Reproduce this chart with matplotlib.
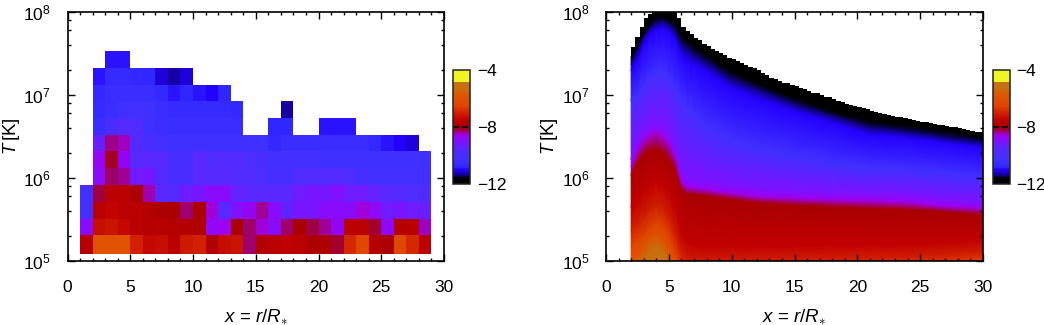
import numpy as np
import matplotlib
matplotlib.use('Agg')
import matplotlib.pyplot as plt
from matplotlib.colors import LinearSegmentedColormap, Normalize
from matplotlib.cm import ScalarMappable
from matplotlib.ticker import LogLocator, MultipleLocator, NullFormatter

plt.rcParams['font.family'] = ['Liberation Sans', 'DejaVu Sans']
plt.rcParams['mathtext.fontset'] = 'custom'
plt.rcParams['mathtext.rm'] = 'Liberation Sans'
plt.rcParams['mathtext.it'] = 'Liberation Sans:italic'
plt.rcParams['mathtext.bf'] = 'Liberation Sans:bold'
plt.rcParams['font.size'] = 12.5

n = np.nan

# left panel: cell edges and log10 values, rows go from the bottom up
x_edges = list(range(1, 30))
logT_edges = [5.08, 5.31, 5.51, 5.71, 5.92, 6.12, 6.32, 6.52, 6.72, 6.93, 7.125, 7.325, 7.53]
row0 = [-7.7, -6.0, -6.0, -6.0, -7.0, -7.4, -7.3, -7.6, -7.1, -7.0, -7.8, -7.3, -7.2, -8.3, -7.8, -7.6, -7.55, -7.6, -7.85, -7.9, -8.15, -6.9, -6.4, -7.75, -7.9, -6.4, -6.9, -7.6]
row1 = [-8.9, -7.3, -7.2, -7.4, -7.6, -7.7, -7.65, -7.7, -7.75, -7.8, -8.8, -8.65, -8.0, -8.3, -8.55, -8.9, -8.3, -8.0, -8.2, -8.4, -8.75, -7.6, -7.6, -8.15, -8.8, -7.75, -7.65, -8.5]
row2 = [-10.2, -7.6, -7.45, -7.6, -7.6, -7.75, -7.85, -7.95, -8.3, -7.9, -8.55, -9.6, -9.0, -8.75, -8.4, -8.9, -9.4, -9.1, -9.1, -8.9, -8.9, -8.9, -8.55, -8.8, -9.2, -9.1, -9.2, -9.3]
row3 = [-10.2, -8.2, -7.6, -7.6, -7.9, -8.45, -9.5, -9.6, -9.25, -9.1, -8.9, -8.9, -9.35, -9.5, -9.5, -9.5, -9.5, -9.2, -9.1, -9.1, -9.0, -9.2, -9.2, -9.35, -9.5, -9.7, -9.8, -9.8]
row4 = [n, -8.85, -8.3, -8.4, -9.2, -9.1, -9.7, -10.0, -10.0, -9.5, -9.6, -9.6, -9.7, -9.8, -9.9, -10.1, -10.1, -9.8, -9.75, -9.7, -9.7, -9.8, -10.0, -10.2, -10.2, -10.2, -10.2, -10.2]
row5 = [n, -8.7, -8.1, -8.75, -9.6, -9.5, -9.6, -10.0, -10.1, -9.5, -9.8, -9.7, -9.7, -9.85, -10.0, -10.2, -10.2, -10.2, -10.2, -10.3, -10.3, -10.3, -10.3, -10.3, -10.3, -10.3, -10.3, -10.3]
row6 = [n, -9.3, -8.35, -8.5, -9.7, -10.0, -10.2, -10.3, -10.3, -10.3, -10.3, -10.3, -10.3, -10.3, -10.3, -10.7, -10.5, -10.5, -10.5, -10.5, -10.5, -10.5, -10.5, -10.7, -10.9, -11.0, -11.1, n]
row7 = [n, -10.5, -10.0, -9.7, -9.8, -10.3, -10.4, -10.5, -10.5, -10.5, -10.5, -10.5, -10.5, n, n, -10.8, -10.8, n, n, -10.9, -10.9, -10.9, n, n, n, n, n, n]
row8 = [n, -10.6, -10.5, -10.3, -10.2, -10.3, -10.5, -10.6, -10.6, -10.6, -10.6, -10.6, -10.7, n, n, n, -11.3, n, n, n, n, n, n, n, n, n, n, n]
row9 = [n, -10.7, -10.5, -10.5, -10.5, -10.5, -10.7, -10.9, -10.8, -10.9, -11.0, -10.8, n, n, n, n, n, n, n, n, n, n, n, n, n, n, n, n]
row10 = [n, -10.9, -10.6, -10.6, -10.7, -10.8, -11.1, -11.3, -11.1, n, n, n, n, n, n, n, n, n, n, n, n, n, n, n, n, n, n, n]
row11 = [n, n, -10.9, -10.9, n, n, n, n, n, n, n, n, n, n, n, n, n, n, n, n, n, n, n, n, n, n, n, n]

# right panel: upper edge of the black region, one value every 1/3 in x from x = 2
logT_top = [7.58, 7.70, 7.82, 7.93, 7.98, 8.01, 8.01, 8.01, 8.01, 8.01, 8.01, 7.93, 7.82, 7.77, 7.73, 7.69, 7.66, 7.62, 7.59,
            7.56, 7.53, 7.51, 7.48, 7.45, 7.43, 7.41, 7.38, 7.36, 7.34, 7.32, 7.30, 7.27, 7.24, 7.21, 7.19, 7.17, 7.15,
            7.14, 7.12, 7.11, 7.09, 7.07, 7.05, 7.03, 7.02, 7.00, 6.98, 6.97, 6.95, 6.93, 6.91, 6.89, 6.88, 6.87, 6.86,
            6.84, 6.83, 6.81, 6.80, 6.78, 6.77, 6.76, 6.75, 6.74, 6.73, 6.72, 6.71, 6.70, 6.69, 6.68, 6.67, 6.66, 6.65,
            6.64, 6.64, 6.63, 6.62, 6.61, 6.60, 6.59, 6.58, 6.57, 6.56, 6.55, 6.55]

# right panel: height at which the field reaches each level, per column
x_cols = [2, 2.5, 3, 3.5, 4, 4.5, 5, 5.5, 6, 6.5, 7, 8, 10, 12, 15, 18, 21, 24, 27, 30]
levels = [-12, -11.4, -11, -10.3, -9, -8.6, -8, -7.5, -7, -6.5, -6, -5.3, -5.3]
lev_m12 = [7.46, 7.58, 7.74, 7.86, 7.93, 7.94, 7.90, 7.86, 7.70, 7.64, 7.58, 7.48, 7.28, 7.14, 6.96, 6.80, 6.68, 6.62, 6.56, 6.48]
lev_m114 = [7.37, 7.52, 7.70, 7.80, 7.86, 7.88, 7.84, 7.76, 7.60, 7.54, 7.48, 7.38, 7.18, 7.06, 6.88, 6.74, 6.60, 6.55, 6.48, 6.42]
lev_m11 = [7.30, 7.40, 7.60, 7.72, 7.78, 7.80, 7.76, 7.66, 7.48, 7.40, 7.36, 7.28, 7.08, 6.96, 6.80, 6.66, 6.52, 6.48, 6.42, 6.36]
lev_m103 = [6.94, 7.00, 7.12, 7.22, 7.26, 7.28, 7.20, 7.10, 6.95, 6.85, 6.78, 6.62, 6.46, 6.36, 6.26, 6.18, 6.12, 6.10, 6.06, 6.02]
lev_m9 = [6.22, 6.42, 6.54, 6.60, 6.62, 6.60, 6.52, 6.34, 6.06, 5.98, 5.96, 5.94, 5.90, 5.86, 5.83, 5.81, 5.80, 5.78, 5.73, 5.69]
lev_m86 = [6.14, 6.34, 6.46, 6.53, 6.56, 6.52, 6.42, 6.26, 5.94, 5.89, 5.88, 5.86, 5.82, 5.78, 5.76, 5.74, 5.73, 5.71, 5.66, 5.64]
lev_m8 = [6.04, 6.18, 6.28, 6.33, 6.34, 6.30, 6.22, 6.10, 5.86, 5.80, 5.80, 5.78, 5.74, 5.70, 5.67, 5.65, 5.63, 5.62, 5.59, 5.55]
lev_m75 = [5.65, 5.72, 5.82, 5.89, 5.94, 5.92, 5.82, 5.63, 5.33, 5.21, 5.19, 5.17, 5.17, 5.17, 5.18, 5.19, 5.19, 5.19, 5.22, 5.25]
lev_m7 = [5.37, 5.43, 5.51, 5.60, 5.65, 5.62, 5.50, 5.29, 5.07, 4.99, 4.97, 4.97, 4.98, 4.99, 5.00, 5.01, 5.02, 5.03, 5.06, 5.09]
lev_m65 = [5.18, 5.24, 5.30, 5.38, 5.43, 5.40, 5.28, 5.07, 4.90, 4.80, 4.80, 4.80, 4.80, 4.82, 4.84, 4.86, 4.90, 4.92, 4.95, 5.00]
lev_m6 = [5.03, 5.07, 5.18, 5.28, 5.32, 5.26, 5.12, 4.95, 4.75, 4.70, 4.70, 4.70, 4.70, 4.70, 4.72, 4.74, 4.76, 4.78, 4.80, 4.82]
lev_m53 = [4.85, 4.90, 4.98, 5.10, 5.15, 5.12, 4.95, 4.70, 4.60, 4.60, 4.60, 4.60, 4.60, 4.60, 4.60, 4.60, 4.60, 4.60, 4.60, 4.60]
lev_low = [4.5, 4.5, 4.5, 4.5, 4.5, 4.5, 4.5, 4.5, 4.5, 4.5, 4.5, 4.5, 4.5, 4.5, 4.5, 4.5, 4.5, 4.5, 4.5, 4.5]

xticks = [0, 5, 10, 15, 20, 25, 30]
cbar_ticks = [-4, -8, -12]
cbar_labels = ['\u22124', '\u22128', '\u221212']

# colour scale
cm_vals = [-12, -11.6, -11.4, -11, -10.8, -10.3, -9.5, -9, -8.6, -8.45, -8.2, -8, -7.5, -7, -6.5, -6, -5.5, -5.3, -4.85, -4.8, -4]
cm_cols = ['#000000', '#000000', '#100088', '#2400ff', '#3028ff', '#4030ff', '#5828ff', '#8010ff', '#a000f0', '#a000b0', '#a00040',
           '#a80000', '#c00000', '#d02000', '#e04400', '#e05000', '#d86000', '#c87010', '#c87010', '#eef520', '#eef520']
pos = [(v + 12) / 8 for v in cm_vals]
cmap = LinearSegmentedColormap.from_list('rad', list(zip(pos, cm_cols)), N=256)
norm = Normalize(-12, -4)


def style_axes(ax):
    ax.set_xlim(0, 30)
    ax.set_ylim(1e5, 1e8)
    ax.set_yscale('log')
    ax.set_xticks(xticks)
    ax.xaxis.set_minor_locator(MultipleLocator(1))
    ax.yaxis.set_major_locator(LogLocator(base=10, numticks=5))
    ax.yaxis.set_minor_locator(LogLocator(base=10, subs=[2, 4, 6, 8], numticks=5))
    ax.yaxis.set_minor_formatter(NullFormatter())
    ax.tick_params(which='both', direction='in', top=True, right=True, width=1)
    ax.tick_params(which='major', length=5)
    ax.tick_params(which='minor', length=2.5)
    ax.tick_params(axis='x', which='major', pad=14)
    ax.tick_params(axis='y', which='major', pad=12)
    for s in ax.spines.values():
        s.set_linewidth(1.2)
    ax.set_xlabel(r'$x$ = $r/R_{\ast}$', fontsize=13.5, labelpad=8)
    ax.set_ylabel(r'$T\,$[K]', fontsize=13.5, labelpad=1)


def add_cbar(left):
    cax = fig.add_axes([left / 1044, 1 - 184 / 325, 17 / 1044, 114 / 325])
    cb = fig.colorbar(ScalarMappable(norm=norm, cmap=cmap), cax=cax, ticks=cbar_ticks)
    cb.ax.set_yticklabels(cbar_labels)
    cb.ax.tick_params(length=0, pad=5)
    cb.outline.set_linewidth(1.1)
    cb.outline.set_edgecolor('#222222')
    cb.ax.axhline(-8, color='k', lw=1.2, ls='--')


fig = plt.figure(figsize=(10.44, 3.25), dpi=100)

ax1 = fig.add_axes([67.5 / 1044, 1 - 261 / 325, 376.5 / 1044, 249 / 325])
grid = np.ma.masked_invalid(np.array([row0, row1, row2, row3, row4, row5, row6, row7, row8, row9, row10, row11]))
ax1.pcolormesh(x_edges, 10.0 ** np.array(logT_edges), grid, cmap=cmap, norm=norm)
style_axes(ax1)

ax2 = fig.add_axes([606 / 1044, 1 - 261 / 325, 377 / 1044, 249 / 325])
x_top = 2 + np.arange(len(logT_top)) / 3
ax2.fill_between(x_top, 1e6, 10.0 ** np.array(logT_top), step='post', color='k', lw=0)
bounds = np.array([lev_m12, lev_m114, lev_m11, lev_m103, lev_m9, lev_m86, lev_m8, lev_m75, lev_m7, lev_m65, lev_m6, lev_m53, lev_low])
xx = np.tile(x_cols, (len(levels), 1))
cc = np.tile(np.array(levels, dtype=float)[:, None], (1, len(x_cols)))
ax2.pcolormesh(xx, 10.0 ** bounds, cc, shading='gouraud', cmap=cmap, norm=norm)
style_axes(ax2)

add_cbar(453)
add_cbar(992.5)

fig.savefig('out.png', dpi=100)
plt.close()
